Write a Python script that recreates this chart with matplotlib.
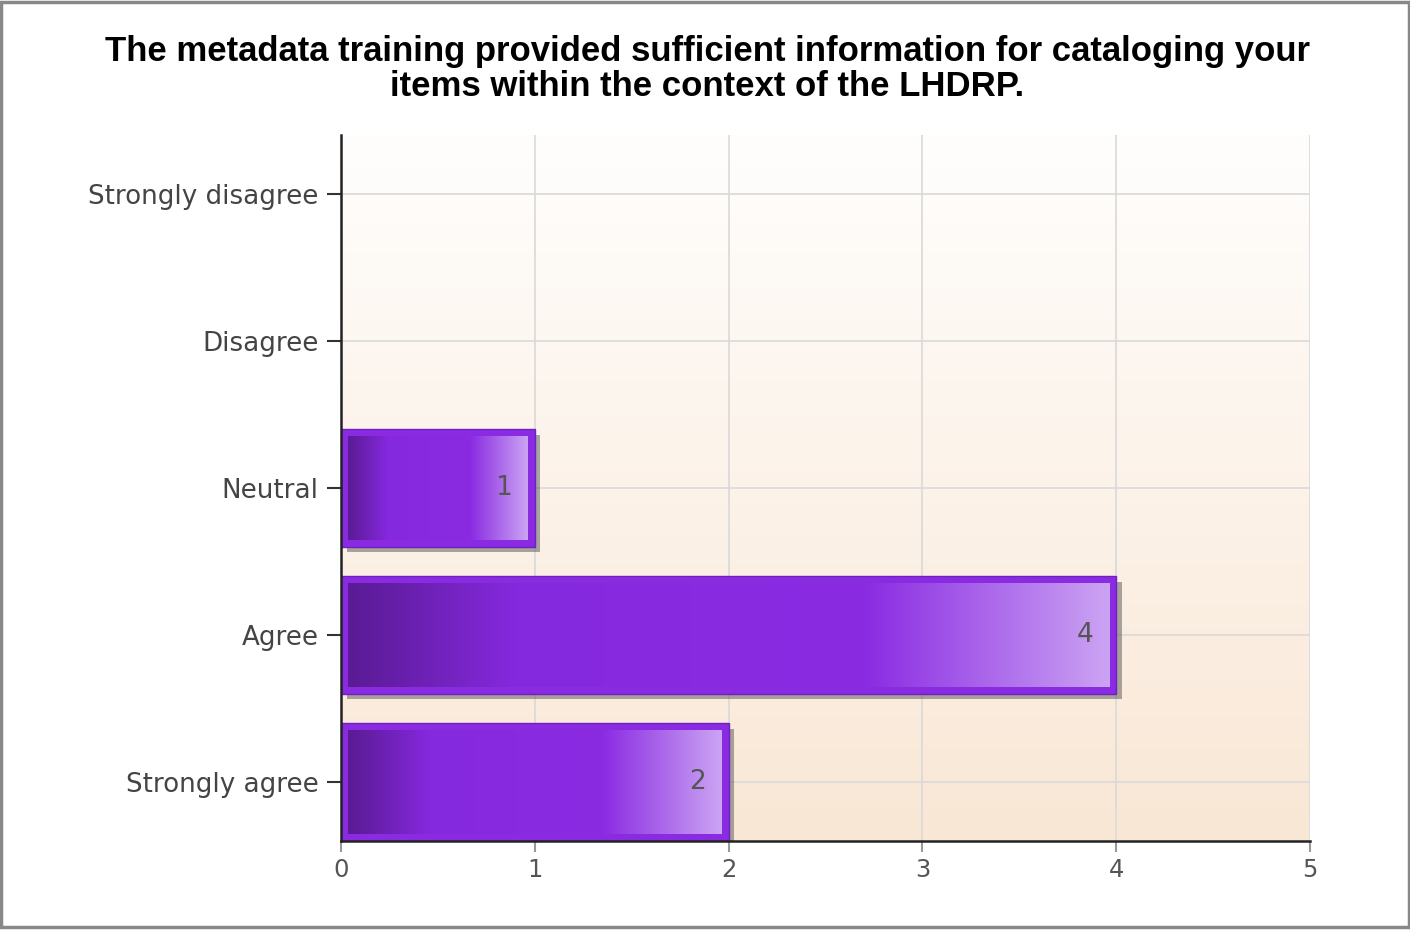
import matplotlib
matplotlib.use("Agg")
import matplotlib.pyplot as plt
import matplotlib.patheffects as pe
import numpy as np
from matplotlib.colors import LinearSegmentedColormap
from matplotlib.patches import Rectangle

categorias = ["Strongly agree", "Agree", "Neutral", "Disagree", "Strongly disagree"]
valores = [2, 4, 1, 0, 0]
xticks = [0, 1, 2, 3, 4, 5]
titulo = ("The metadata training provided sufficient information for cataloging your\n"
          "items within the context of the LHDRP.")

fig = plt.figure(figsize=(14.1, 9.3), dpi=100)
ax = fig.add_axes([341 / 1410, 89 / 930, 969 / 1410, 706 / 930])

xmin, xmax = 0, 5
ymin, ymax = -0.4, 4.4
ax.set_xlim(xmin, xmax)
ax.set_ylim(ymin, ymax)

# fundo em degradê (branco -> pêssego)
fundo = LinearSegmentedColormap.from_list("fundo", ["#f9e7d5", "#fffefd"])
ax.imshow(np.linspace(0, 1, 256).reshape(-1, 1), cmap=fundo, aspect="auto",
          extent=[0, 1, 0, 1], transform=ax.transAxes, origin="lower", zorder=0)

ax.set_xticks(xticks)
ax.set_yticks(range(len(categorias)))
ax.set_yticklabels(categorias)
ax.grid(True, color="#d9d9d9", linewidth=1.2, zorder=1)
ax.set_axisbelow(True)

for lado in ["top", "right"]:
    ax.spines[lado].set_visible(False)
ax.spines["left"].set_color("#222222")
ax.spines["bottom"].set_color("#222222")
ax.spines["left"].set_linewidth(1.8)
ax.spines["bottom"].set_linewidth(1.8)
ax.spines["left"].set_zorder(5)
ax.spines["bottom"].set_zorder(5)

ax.tick_params(axis="y", length=10, width=1.5, color="#333333", labelsize=18.8,
               labelcolor="#444444", pad=6)
ax.tick_params(axis="x", length=8, width=1.5, color="#999999", labelsize=17.5,
               labelcolor="#555555", pad=4)

# degradê das barras
cor_barra = LinearSegmentedColormap.from_list(
    "barra", [(0, "#5a1b94"), (0.22, "#8529de"), (0.68, "#8a2be2"), (1.0, "#cba3f3")])
grad = np.linspace(0, 1, 256).reshape(1, -1)

px_x = (xmax - xmin) / 969.0
px_y = (ymax - ymin) / 706.0
altura = 0.8

for i, v in enumerate(valores):
    if v == 0:
        continue
    ax.barh(i, v, height=altura, color="#8a2be2", edgecolor="#6f20c0", linewidth=1,
            zorder=3,
            path_effects=[pe.SimplePatchShadow(offset=(4, -4), shadow_rgbFace="#555555",
                                               alpha=0.5), pe.Normal()])
    ax.imshow(grad, cmap=cor_barra, aspect="auto", zorder=4, interpolation="bilinear",
              extent=[7 * px_x, v - 7 * px_x, i - altura / 2 + 7 * px_y,
                      i + altura / 2 - 7 * px_y])
    ax.text(v - 0.16, i, str(v), ha="center", va="center", fontsize=19,
            color="#555555", zorder=6)

ax.set_xlim(xmin, xmax)
ax.set_ylim(ymin, ymax)

fig.suptitle(titulo, x=0.5015, y=0.962, fontsize=25, fontweight="bold",
             family="Liberation Sans", linespacing=1.08, va="top")

# moldura cinza
fig.patches.append(Rectangle((0.001, 0.003), 0.998, 0.995, transform=fig.transFigure,
                             fill=False, edgecolor="#888888", linewidth=2.5))

fig.savefig("out.png", dpi=100)
plt.close()
